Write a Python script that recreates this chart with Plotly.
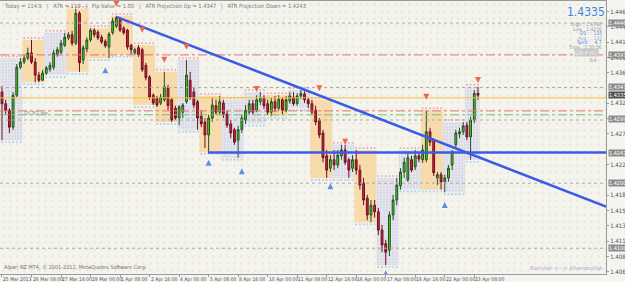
import plotly.graph_objects as go

# ---------------- data (H4 bars, 25 Mar - 23 Apr 2013) ----------------
open_ = [1.4340,1.4322,1.4312,1.4286,1.4335,1.4378, 1.4386,1.4392,1.4400,1.4386,1.4366,1.4358,
         1.4369,1.4375,1.4378,1.4397,1.4401,1.4412, 1.4423,1.4428,1.4415,1.4461,1.4389,1.4406,
         1.4420,1.4435,1.4432,1.4424,1.4418,1.4409, 1.4431,1.4441,1.4451,1.4438,1.4435,1.4412,
         1.4400,1.4408,1.4405,1.4381,1.4363,1.4335, 1.4331,1.4323,1.4328,1.4346,1.4328,1.4315,
         1.4300,1.4309,1.4325,1.4358,1.4340,1.4325, 1.4303,1.4294,1.4274,1.4300,1.4319,1.4309,
         1.4323,1.4306,1.4291,1.4282,1.4266,1.4282, 1.4297,1.4309,1.4322,1.4312,1.4325,1.4331,
         1.4322,1.4309,1.4325,1.4315,1.4328,1.4312, 1.4326,1.4332,1.4322,1.4334,1.4337,1.4328,
         1.4322,1.4312,1.4297,1.4277,1.4242,1.4223, 1.4236,1.4228,1.4242,1.4251,1.4236,1.4223,
         1.4236,1.4220,1.4200,1.4177,1.4151,1.4166, 1.4156,1.4128,1.4107,1.4097,1.4151,1.4174,
         1.4196,1.4217,1.4205,1.4236,1.4225,1.4242, 1.4236,1.4236,1.4279,1.4266,1.4208,1.4213,
         1.4202,1.4208,1.4228,1.4259,1.4276,1.4279, 1.4289,1.4271,1.4297,1.4338]
high = [1.4349,1.4328,1.4315,1.4340,1.4383,1.4392, 1.4397,1.4408,1.4420,1.4392,1.4371,1.4374,
        1.4380,1.4386,1.4405,1.4409,1.4420,1.4431, 1.4432,1.4434,1.4468,1.4464,1.4412,1.4424,
        1.4438,1.4438,1.4435,1.4428,1.4421,1.4432, 1.4454,1.4457,1.4454,1.4441,1.4437,1.4414,
        1.4408,1.4412,1.4408,1.4385,1.4366,1.4338, 1.4334,1.4337,1.4371,1.4351,1.4331,1.4319,
        1.4320,1.4323,1.4389,1.4371,1.4346,1.4328, 1.4312,1.4300,1.4305,1.4331,1.4328,1.4334,
        1.4328,1.4312,1.4297,1.4285,1.4288,1.4305, 1.4320,1.4328,1.4328,1.4335,1.4340,1.4335,
        1.4328,1.4331,1.4334,1.4335,1.4332,1.4334, 1.4340,1.4340,1.4338,1.4343,1.4341,1.4331,
        1.4328,1.4319,1.4300,1.4282,1.4251,1.4243, 1.4251,1.4251,1.4259,1.4259,1.4239,1.4243,
        1.4251,1.4228,1.4208,1.4182,1.4174,1.4174, 1.4162,1.4136,1.4113,1.4156,1.4182,1.4208,
        1.4223,1.4239,1.4248,1.4242,1.4251,1.4246, 1.4259,1.4312,1.4285,1.4269,1.4217,1.4217,
        1.4213,1.4228,1.4251,1.4282,1.4285,1.4294, 1.4294,1.4302,1.4343,1.4348]
low = [1.4266,1.4306,1.4277,1.4282,1.4332,1.4375, 1.4383,1.4389,1.4383,1.4355,1.4355,1.4357,
       1.4366,1.4371,1.4374,1.4394,1.4398,1.4409, 1.4420,1.4411,1.4412,1.4371,1.4383,1.4401,
       1.4417,1.4424,1.4420,1.4414,1.4408,1.4392, 1.4428,1.4438,1.4432,1.4428,1.4405,1.4397,
       1.4397,1.4394,1.4371,1.4358,1.4328,1.4320, 1.4317,1.4320,1.4325,1.4312,1.4294,1.4297,
       1.4289,1.4300,1.4322,1.4328,1.4315,1.4282, 1.4286,1.4254,1.4248,1.4294,1.4305,1.4305,
       1.4300,1.4285,1.4269,1.4259,1.4239,1.4277, 1.4291,1.4305,1.4306,1.4309,1.4320,1.4314,
       1.4305,1.4303,1.4309,1.4312,1.4306,1.4309, 1.4322,1.4319,1.4319,1.4329,1.4323,1.4315,
       1.4305,1.4289,1.4269,1.4232,1.4208,1.4217, 1.4220,1.4223,1.4236,1.4228,1.4208,1.4217,
       1.4213,1.4190,1.4166,1.4143,1.4140,1.4147, 1.4120,1.4094,1.4074,1.4088,1.4143,1.4166,
       1.4190,1.4208,1.4202,1.4217,1.4220,1.4232, 1.4231,1.4232,1.4257,1.4211,1.4197,1.4190,
       1.4186,1.4202,1.4220,1.4254,1.4269,1.4274, 1.4266,1.4236,1.4292,1.4328]
close = [1.4322,1.4312,1.4286,1.4335,1.4378,1.4386, 1.4392,1.4400,1.4386,1.4366,1.4358,1.4369,
         1.4377,1.4381,1.4400,1.4405,1.4415,1.4424, 1.4428,1.4415,1.4461,1.4385,1.4408,1.4420,
         1.4435,1.4428,1.4423,1.4417,1.4411,1.4429, 1.4449,1.4454,1.4435,1.4431,1.4409,1.4405,
         1.4405,1.4397,1.4374,1.4362,1.4332,1.4323, 1.4320,1.4332,1.4348,1.4319,1.4297,1.4300,
         1.4317,1.4320,1.4366,1.4331,1.4320,1.4300, 1.4291,1.4274,1.4300,1.4320,1.4309,1.4325,
         1.4305,1.4289,1.4277,1.4263,1.4282,1.4300, 1.4312,1.4322,1.4309,1.4328,1.4331,1.4319,
         1.4309,1.4325,1.4315,1.4329,1.4312,1.4328, 1.4334,1.4322,1.4334,1.4338,1.4328,1.4322,
         1.4309,1.4294,1.4274,1.4239,1.4220,1.4236, 1.4228,1.4243,1.4251,1.4232,1.4220,1.4236,
         1.4220,1.4197,1.4174,1.4151,1.4166,1.4156, 1.4128,1.4105,1.4094,1.4151,1.4174,1.4197,
         1.4217,1.4232,1.4239,1.4220,1.4242,1.4237, 1.4251,1.4279,1.4263,1.4216,1.4213,1.4202,
         1.4208,1.4223,1.4248,1.4277,1.4279,1.4288, 1.4271,1.4297,1.4338,1.4335]
bars = list(range(len(close)))

# one session box per trading day (6 H4 bars); colour kind of each day box
day_kind = ["gray", "orange", "gray", "orange", "orange", "orange", "orange", "orange",
            "gray", "orange", "gray", "gray", "orange", "gray", "orange", "gray",
            "orange", "gray", "gray", "orange", "gray", "gray"]

time_labels = ["25 Mar 2013", "26 Mar 08:00", "27 Mar 16:00", "29 Mar 00:00", "1 Apr 08:00",
               "2 Apr 16:00", "4 Apr 00:00", "5 Apr 08:00", "8 Apr 16:00", "10 Apr 00:00",
               "11 Apr 08:00", "12 Apr 16:00", "16 Apr 00:00", "17 Apr 08:00", "18 Apr 16:00",
               "22 Apr 00:00", "23 Apr 08:00"]
time_label_bars = [0, 8, 16, 24, 32, 40, 48, 56, 64, 72, 80, 88, 96, 104, 112, 120, 128]

price_ticks = [1.44635, 1.44400, 1.44165, 1.43930, 1.43695, 1.43225, 1.42990, 1.42755,
               1.42285, 1.41815, 1.41580, 1.41345, 1.41105, 1.40870, 1.40635]

# level lines
level_prices = [1.4446, 1.4397, 1.4347, 1.4331, 1.4311, 1.4305, 1.4297, 1.4200, 1.4100]
level_styles = ["gray", "red", "gray", "yellow", "red", "green", "gray", "gray", "gray"]
axis_box_prices = [1.4446, 1.4397, 1.4347, 1.4299, 1.4247, 1.4200, 1.4100]
bid_price = 1.4335

# trend line and support line (bar index, price)
trend_x = [31.2, 163.7]
trend_y = [1.4455, 1.4164]
support_x = [55.8, 163.7]
support_y = [1.4247, 1.4247]

# fractal markers
up_mark_bars = [31, 38, 44, 50, 69, 86, 93, 115, 129]
up_mark_prices = [1.4471, 1.4431, 1.4385, 1.4405, 1.4340, 1.4341, 1.4259, 1.4328, 1.4354]
dn_mark_bars = [28, 56, 65, 89, 104, 120]
dn_mark_prices = [1.4378, 1.4236, 1.4223, 1.4200, 1.4066, 1.4171]

X0, X1 = -0.54, 163.7
Y0, Y1 = 1.40604, 1.44798

fig = go.Figure()
NOH = dict(showlegend=False, hoverinfo="skip")

# background texture (bottom layer, main axes)
fig.add_trace(go.Scatter(x=[X0, X1, X1, X0, X0], y=[Y0, Y0, Y1, Y1, Y0], mode="lines",
    line=dict(width=0), fill="toself", fillcolor="#F4F4EF",
    fillpattern=dict(shape=".", fgcolor="#EDD6B4", bgcolor="#F4F4EF", size=7, solidity=0.12), **NOH))

# daily session boxes (main axes)
for d, kind in enumerate(day_kind):
    i0, i1 = 6 * d, min(6 * d + 6, len(close))
    hi = max(high[i0:i1]); lo = min(low[i0:i1])
    xa, xb = i0 - 0.5, i1 - 0.5
    if kind == "orange":
        fig.add_trace(go.Scatter(x=[xa, xb, xb, xa, xa], y=[lo, lo, hi, hi, lo], mode="lines",
            line=dict(width=0), fill="toself", fillcolor="rgba(248,212,156,0.8)", **NOH))
    else:
        fig.add_trace(go.Scatter(x=[xa, xb, xb, xa, xa], y=[lo, lo, hi, hi, lo], mode="lines",
            line=dict(width=0), fill="toself", fillcolor="#DCDCE6",
            fillpattern=dict(shape=".", fgcolor="#FFFFFF", bgcolor="#DADAE4", size=3, solidity=0.3),
            **NOH))
    fig.add_trace(go.Scatter(x=[xa + 0.5 + k for k in range(i1 - i0)], y=[hi + 0.0003] * (i1 - i0),
        mode="markers", marker=dict(symbol="circle", size=2, color="#F2A6AE"), **NOH))
    fig.add_trace(go.Scatter(x=[xa + 0.5 + k for k in range(i1 - i0)], y=[lo - 0.0003] * (i1 - i0),
        mode="markers", marker=dict(symbol="circle", size=2, color="#A6CFF0"), **NOH))

# ---- overlay axes: levels, candles, lines, markers ----
style_map = {"gray": dict(color="#A8A8A8", width=1, dash="dot"),
             "red": dict(color="#E87070", width=1, dash="dashdot"),
             "green": dict(color="#70C070", width=1, dash="dashdot"),
             "yellow": dict(color="#F2C040", width=1)}
for p, s in zip(level_prices, level_styles):
    fig.add_trace(go.Scatter(x=[X0, X1], y=[p, p], mode="lines", line=style_map[s],
                             xaxis="x2", yaxis="y2", **NOH))

fig.add_trace(go.Candlestick(x=bars, open=open_, high=high, low=low, close=close,
    increasing=dict(fillcolor="#33E600", line=dict(color="#2A4A2A", width=1)),
    decreasing=dict(fillcolor="#D8213B", line=dict(color="#6A1020", width=1)),
    whiskerwidth=0, xaxis="x2", yaxis="y2", **NOH))

fig.add_trace(go.Scatter(x=trend_x, y=trend_y, mode="lines",
    line=dict(color="#3B5BE6", width=2.5), xaxis="x2", yaxis="y2", **NOH))
fig.add_trace(go.Scatter(x=support_x, y=support_y, mode="lines",
    line=dict(color="#3B5BE6", width=2.5), xaxis="x2", yaxis="y2", **NOH))

fig.add_trace(go.Scatter(x=up_mark_bars, y=up_mark_prices, mode="markers",
    marker=dict(symbol="arrow-down", size=6, color="#F06450"), xaxis="x2", yaxis="y2", **NOH))
fig.add_trace(go.Scatter(x=dn_mark_bars, y=dn_mark_prices, mode="markers",
    marker=dict(symbol="arrow-up", size=6, color="#5C8EE8"), xaxis="x2", yaxis="y2", **NOH))

small = "Liberation Sans Narrow, DejaVu Sans Condensed, Liberation Sans, sans-serif"
fig.update_layout(
    width=625, height=282, margin=dict(l=0, r=19, t=1, b=8),
    paper_bgcolor="#F4F4F0", plot_bgcolor="#F4F4EF",
    xaxis=dict(range=[X0, X1], showgrid=False, zeroline=False, showticklabels=False,
               rangeslider=dict(visible=False), showline=True, mirror=True, linecolor="#9A9A9A",
               tickvals=time_label_bars, ticks="outside", ticklen=2, tickcolor="#9A9A9A"),
    yaxis=dict(range=[Y0, Y1], side="right", showgrid=False, zeroline=False, automargin=False,
               tickvals=price_ticks, ticktext=[f"{v:.5f}" for v in price_ticks],
               tickfont=dict(size=6, color="#505050", family=small),
               ticks="outside", ticklen=2, tickcolor="#9A9A9A",
               showline=True, mirror=True, linecolor="#9A9A9A"),
    xaxis2=dict(range=[X0, X1], overlaying="x", visible=False, rangeslider=dict(visible=False),
                showgrid=False, zeroline=False),
    yaxis2=dict(range=[Y0, Y1], overlaying="y", visible=False, showgrid=False, zeroline=False),
    font=dict(family=small),
)
for b, t in zip(time_label_bars, time_labels):
    fig.add_annotation(x=b, y=0, xref="x", yref="paper", yanchor="top", xanchor="left",
                       text=t, showarrow=False, borderpad=0, yshift=-1,
                       font=dict(size=5, color="#505050", family=small))
for p in axis_box_prices:
    fig.add_annotation(x=1, y=p, xref="paper", yref="y", xanchor="left", yanchor="middle",
                       text=f"{p:.5f}", showarrow=False, bgcolor="#8C8C8C", borderpad=0, xshift=2,
                       font=dict(size=5.5, color="#FFFFFF", family=small))
fig.add_annotation(x=1, y=bid_price, xref="paper", yref="y", xanchor="left", yanchor="middle",
                   text=f"{bid_price:.5f}", showarrow=False, bgcolor="#505050", borderpad=0, xshift=2,
                   font=dict(size=5.5, color="#FFFFFF", family=small))

fig.add_annotation(x=0.004, y=1, xref="paper", yref="paper", xanchor="left", yanchor="top",
    text="Today = 114.9   |   ATR = 110   |   Pip Value = 1.00   |   ATR Projection Up = 1.4347   |   ATR Projection Down = 1.4243",
    showarrow=False, font=dict(size=5.7, color="#7A7A7A", family=small))
fig.add_annotation(x=0.003, y=0.005, xref="paper", yref="paper", xanchor="left", yanchor="bottom",
    text="Alpari NZ MT4, © 2001-2012, MetaQuotes Software Corp.", showarrow=False,
    font=dict(size=5.5, color="#707070", family=small))
fig.add_annotation(x=0.998, y=0.005, xref="paper", yref="paper", xanchor="right", yanchor="bottom",
    text="Bismillah <---> Alhamdulillah", showarrow=False, font=dict(size=5.5, color="#A8A8CC", family=small))
fig.add_annotation(x=9.2, y=1.4308, xref="x", yref="y", xanchor="center", yanchor="middle",
    text="DS R1 bw", showarrow=False, font=dict(size=5.5, color="#909090", family=small))

# info panel (top right)
fig.add_annotation(x=0.967, y=0.99, xref="paper", yref="paper", xanchor="center", yanchor="top",
    text="1.4335", showarrow=False, borderpad=0, font=dict(size=12, color="#3A82EA", family=small))
panel = [("High : 1.4348", "#9A9A9A"), ("Low : 1.4236", "#9A9A9A"), ("D1 :   115", "#3A82EA"),
         ("Avg :   103", "#B0B0B0"), ("Sprd :   4.7", "#3A82EA"), ("Time : 2:33:56", "#9A9A9A")]
for k, (t, c) in enumerate(panel):
    fig.add_annotation(x=0.995, y=0.93 - k * 0.0168, xref="paper", yref="paper", xanchor="right",
        yanchor="top", text=t, showarrow=False, borderpad=0,
        font=dict(size=5, color=c, family=small))
fig.add_annotation(x=0.967, y=0.812, xref="paper", yref="paper", xanchor="center", yanchor="middle",
    text="GR·P·HS", showarrow=False, bgcolor="#C8C8C8", borderpad=0,
    font=dict(size=6, color="#F0F0F0", family=small))
fig.add_annotation(x=0.977, y=0.783, xref="paper", yref="paper", xanchor="center", yanchor="middle",
    text="3/4", showarrow=False, font=dict(size=5, color="#A0A0A0", family=small))

fig.write_html("out.html")
